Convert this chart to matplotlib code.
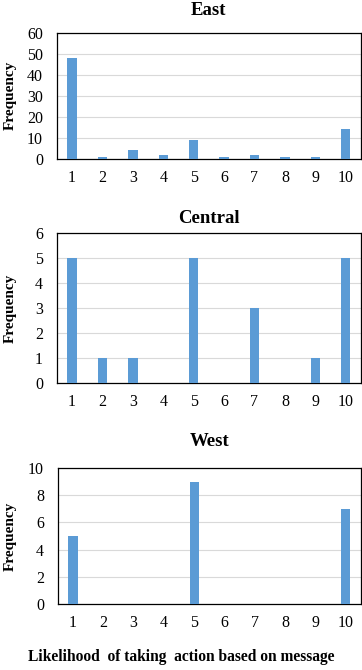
import numpy as np
import matplotlib.pyplot as plt

plt.rcParams['font.family'] = ['Liberation Serif', 'DejaVu Serif']

# data
scores = [1, 2, 3, 4, 5, 6, 7, 8, 9, 10]
east = [48, 1, 4, 2, 9, 1, 2, 1, 1, 14]
central = [5, 1, 1, 0, 5, 0, 3, 0, 1, 5]
west = [5, 0, 0, 0, 9, 0, 0, 0, 0, 7]

# name, values, y max, y step, axes rect, title pad
panels = [
    ("East", east, 60, 10, [0.157, 0.763, 0.840, 0.188], 13),
    ("Central", central, 6, 1, [0.157, 0.428, 0.840, 0.224], 7),
    ("West", west, 10, 2, [0.160, 0.0985, 0.837, 0.203], 16),
]

fig = plt.figure(figsize=(3.62, 6.70), dpi=100)

for name, vals, ymax, step, rect, tpad in panels:
    ax = fig.add_axes(rect)
    ax.bar(scores, vals, width=0.31, color='#5B9BD5', zorder=3)
    ax.set_xlim(0.5, 10.5)
    ax.set_ylim(0, ymax)
    ax.set_yticks(np.arange(0, ymax + step, step))
    ax.set_xticks(scores)
    ax.grid(axis='y', color='#d9d9d9', linewidth=0.8, zorder=0)
    ax.tick_params(length=0, labelsize=11.5)
    ax.tick_params(axis='y', pad=10)
    ax.tick_params(axis='x', pad=8)
    for s in ax.spines.values():
        s.set_linewidth(0.9)
        s.set_color('black')
    ax.set_title(name, fontsize=13.5, fontweight='bold', pad=tpad)
    ax.set_ylabel("Frequency", fontsize=11, fontweight='bold')
    ax.yaxis.set_label_coords((17 - rect[0] * 362) / (rect[2] * 362), 0.5)

fig.text(0.5, 0.013, "Likelihood  of taking  action based on message",
         ha='center', fontsize=11.2, fontweight='bold')

fig.savefig("out.png", dpi=100)
